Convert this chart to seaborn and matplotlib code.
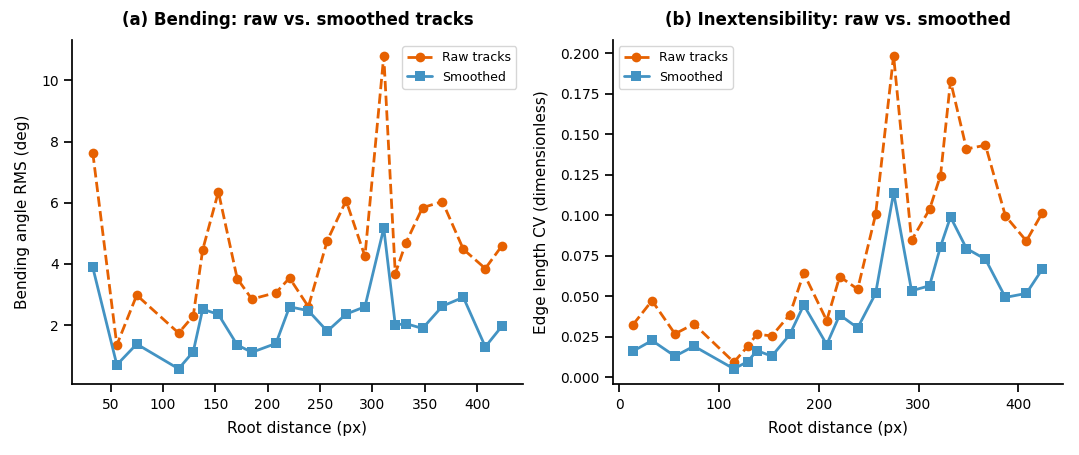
import numpy as np
import pandas as pd
import matplotlib
matplotlib.use("Agg")
import matplotlib.pyplot as plt
import seaborn as sns

# Root distance (px) of each track sample
root_dist = [14, 33, 56, 75, 115, 129, 138, 153, 171, 185, 208, 221, 239,
             257, 275, 293, 311, 322, 332, 348, 367, 387, 408, 424]

# (a) bending angle RMS (deg) - no value at the first sample
bend_raw = [7.64, 1.35, 2.98, 1.74, 2.30, 4.46, 6.36, 3.52, 2.85, 3.06, 3.54, 2.60,
            4.76, 6.07, 4.25, 10.81, 3.68, 4.68, 5.84, 6.04, 4.48, 3.85, 4.60]
bend_smooth = [3.89, 0.70, 1.38, 0.57, 1.13, 2.52, 2.35, 1.35, 1.11, 1.40, 2.60, 2.47,
               1.80, 2.36, 2.60, 5.17, 2.00, 2.05, 1.89, 2.62, 2.91, 1.29, 1.97]

# (b) edge length CV
cv_raw = [0.0324, 0.0472, 0.0267, 0.0328, 0.0092, 0.0191, 0.0265, 0.0254, 0.0386,
          0.0642, 0.0349, 0.0621, 0.0543, 0.1005, 0.1985, 0.0845, 0.1036, 0.1245,
          0.1829, 0.1409, 0.1432, 0.0995, 0.0841, 0.1015]
cv_smooth = [0.0160, 0.0226, 0.0129, 0.0191, 0.0051, 0.0096, 0.0164, 0.0129, 0.0263,
             0.0445, 0.0201, 0.0384, 0.0304, 0.0517, 0.1138, 0.0533, 0.0564, 0.0806,
             0.0989, 0.0794, 0.0728, 0.0492, 0.0517, 0.0667]

raw_color = "#e66101"
smooth_color = "#4393c3"

sns.set_theme(style="ticks", rc={
    "text.color": "black", "axes.labelcolor": "black", "axes.edgecolor": "black",
    "xtick.color": "black", "ytick.color": "black",
})
plt.rcParams["font.family"] = ["DejaVu Sans"]

fig, axes = plt.subplots(1, 2, figsize=(10.79, 4.55), dpi=100)

panels = [
    (axes[0], root_dist[1:], bend_raw, bend_smooth,
     "(a) Bending: raw vs. smoothed tracks", "Bending angle RMS (deg)", "upper right"),
    (axes[1], root_dist, cv_raw, cv_smooth,
     "(b) Inextensibility: raw vs. smoothed", "Edge length CV (dimensionless)", "upper left"),
]

for ax, x, raw, smooth, title, ylabel, loc in panels:
    sns.lineplot(x=x, y=raw, ax=ax, color=raw_color, linestyle="--", linewidth=2,
                 marker="o", markersize=7, markeredgewidth=0, label="Raw tracks")
    sns.lineplot(x=x, y=smooth, ax=ax, color=smooth_color, linestyle="-", linewidth=2,
                 marker="s", markersize=7, markeredgewidth=0, label="Smoothed")
    ax.set_title(title, fontsize=12, fontweight="bold", pad=11)
    ax.set_xlabel("Root distance (px)", fontsize=11, labelpad=7)
    ax.set_ylabel(ylabel, fontsize=11, labelpad=8)
    ax.tick_params(labelsize=10)
    ax.legend(loc=loc, fontsize=9)
    sns.despine(ax=ax)

axes[1].set_xticks([0, 100, 200, 300, 400])

fig.tight_layout()
fig.subplots_adjust(bottom=0.155, top=0.912, left=0.067, right=0.985, wspace=0.2)
fig.savefig("out.png", dpi=100)
